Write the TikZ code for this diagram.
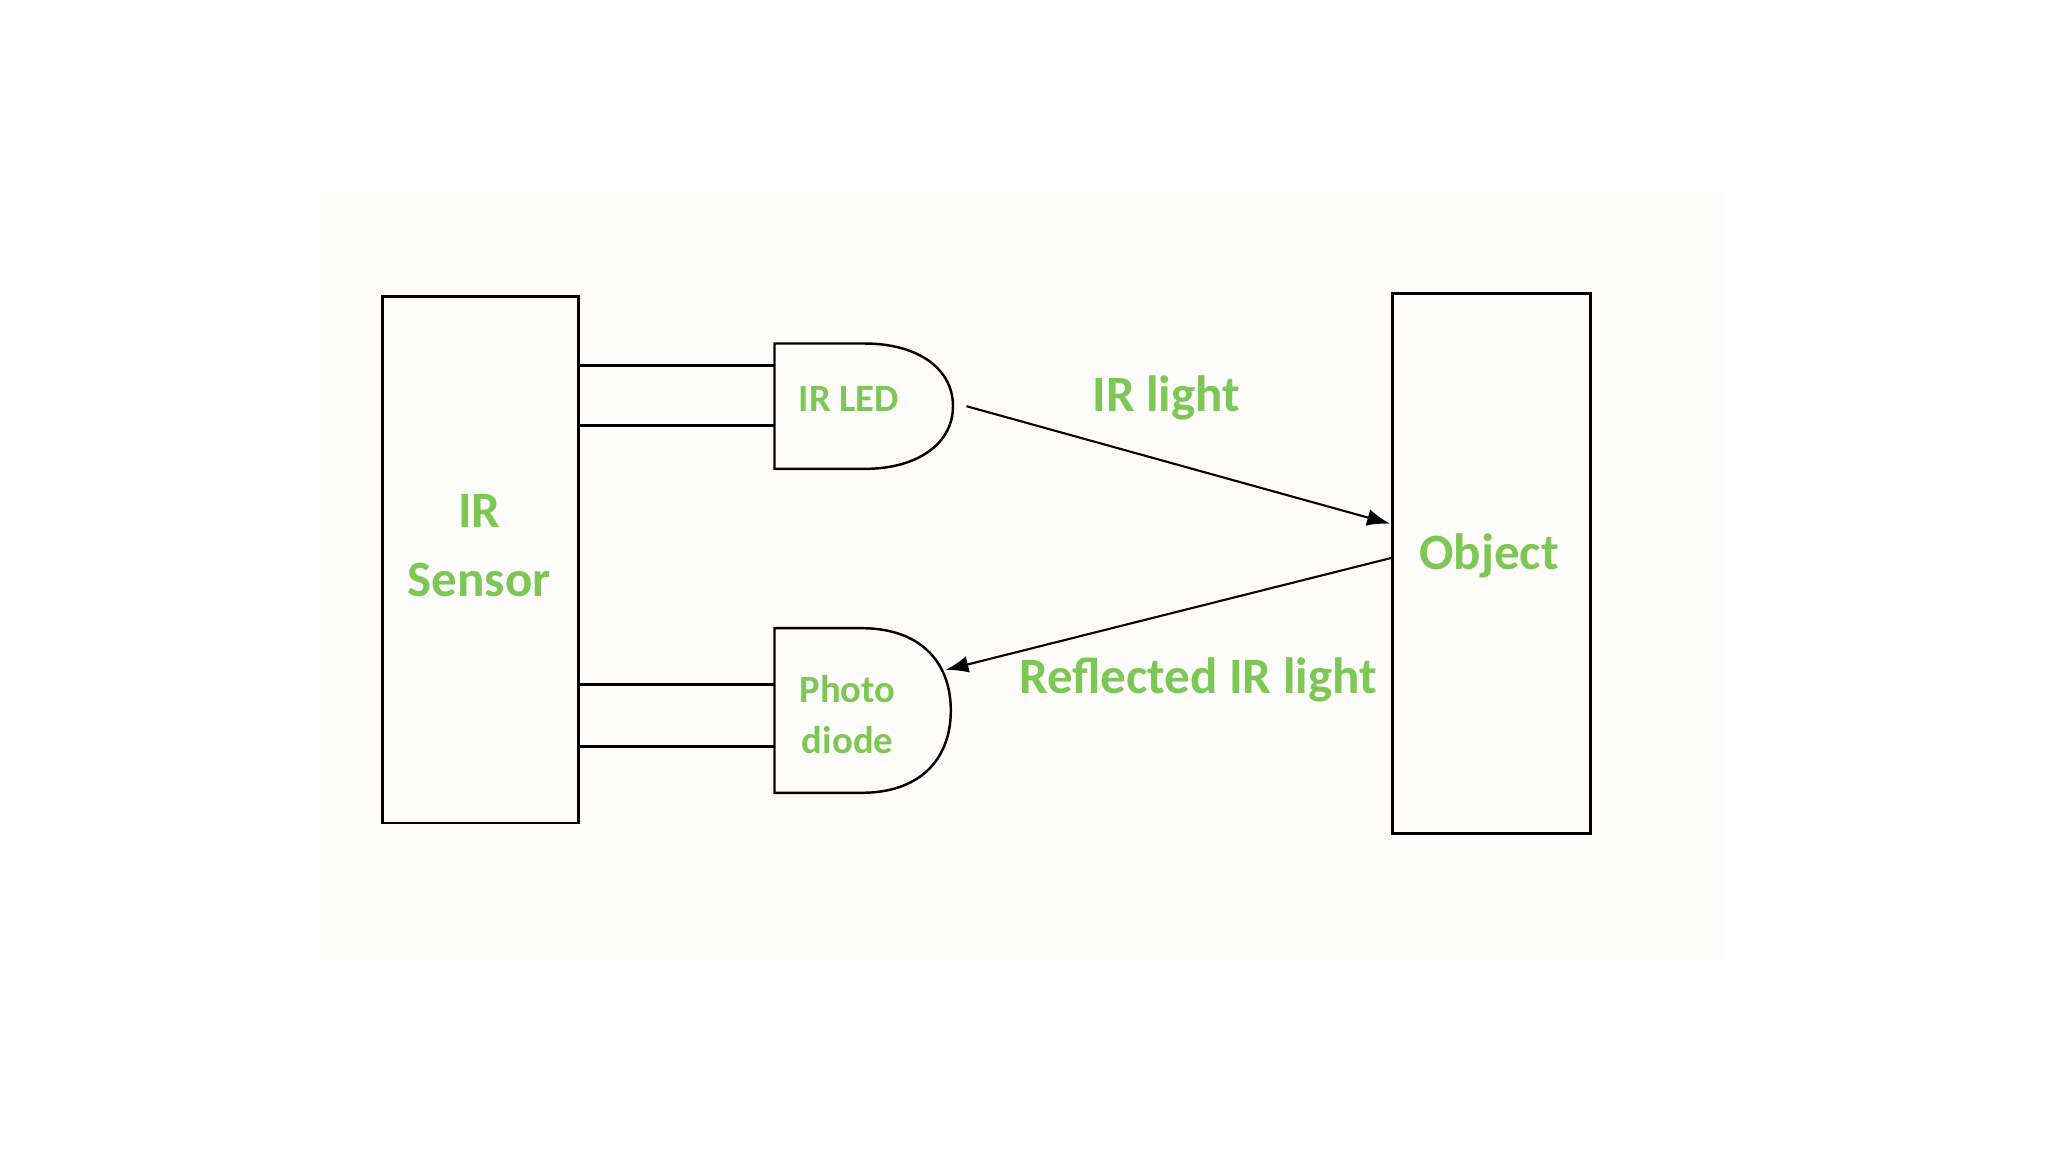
\documentclass[tikz,border=0pt]{standalone}
\usepackage{fontspec}
\setmainfont{Carlito}
\usetikzlibrary{arrows.meta}
\definecolor{lblgreen}{RGB}{125,200,85}
\definecolor{bgpanel}{RGB}{254,253,252}
\begin{document}
\begin{tikzpicture}[x=0.01cm,y=-0.01cm,
  blk/.style={draw=black,line width=0.8pt,inner sep=0pt},
  dev/.style={draw=black,line width=0.7pt},
  leg/.style={draw=black,line width=0.7pt},
  ray/.style={draw=black,line width=0.6pt,-{Latex[length=6.5pt,width=4.8pt]}},
  biglbl/.style={text=lblgreen,font=\bfseries\fontsize{14.5}{17}\selectfont,anchor=base,inner sep=0pt},
  smalllbl/.style={text=lblgreen,font=\bfseries\fontsize{11}{13}\selectfont,anchor=base,inner sep=0pt}]
\useasboundingbox (0,0) rectangle (2048,1152);
\fill[bgpanel] (320,193) rectangle (1724,960);

% boxes
\node[blk,minimum width=1.959cm,minimum height=5.264cm] (sensor) at (480.65,559.7) {};
\node[blk,minimum width=1.985cm,minimum height=5.394cm] (object) at (1491.55,563.6) {};

% IR LED shape
\draw[dev] (774.5,343.5) -- (864,343.5)
  .. controls (920,343.5) and (953,370) .. (953,406.2)
  .. controls (953,442) and (920,468.9) .. (864,468.9)
  -- (774.5,468.9) -- cycle;
% Photodiode shape
\draw[dev] (774.5,628.2) -- (862,628.2)
  .. controls (918,628.2) and (950.8,660) .. (950.8,710.5)
  .. controls (950.8,761) and (918,792.8) .. (862,792.8)
  -- (774.5,792.8) -- cycle;

% leg endpoints
\coordinate (ledA) at (774.5,365.7);
\coordinate (ledB) at (774.5,425.3);
\coordinate (pdA) at (774.5,684.5);
\coordinate (pdB) at (774.5,746.5);
\draw[leg] (sensor.east |- ledA) -- (ledA);
\draw[leg] (sensor.east |- ledB) -- (ledB);
\draw[leg] (sensor.east |- pdA) -- (pdA);
\draw[leg] (sensor.east |- pdB) -- (pdB);

% rays
\coordinate (emit) at (966.5,406.2);
\coordinate (hit) at (1390,523.7);
\coordinate (bounce) at (1392.3,557.7);
\coordinate (recv) at (945.6,670);
\draw[ray] (emit) -- (hit);
\draw[ray] (bounce) -- (recv);

% labels
\node[biglbl] (tir) at (479.3,527.6) {IR};
\node[biglbl] (tsensor) at (479.3,596.9) {Sensor};
\node[smalllbl] (tled) at (849,411.4) {IR LED};
\node[smalllbl] (tphoto) at (847.6,702.7) {Photo};
\node[smalllbl] (tdiode) at (847.6,753.6) {diode};
\node[biglbl] (tirlight) at (1166.3,411.4) {IR light};
\node[biglbl] (trefl) at (1198,693.5) {Reflected IR light};
\node[biglbl] (tobj) at (1489,569.4) {Object};
\end{tikzpicture}
\end{document}
